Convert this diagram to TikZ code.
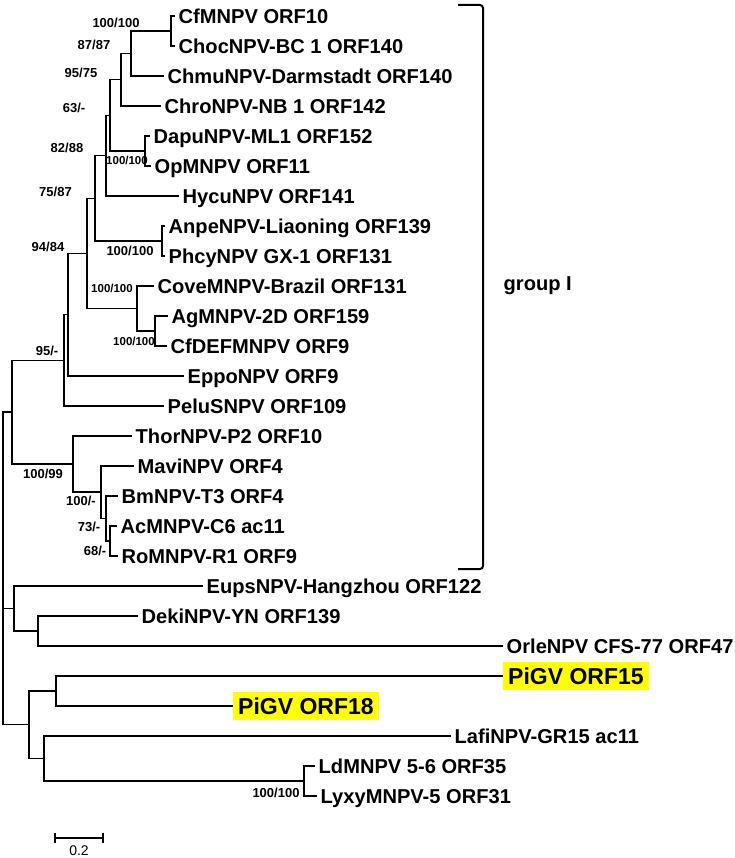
\documentclass[tikz,border=0pt]{standalone}
\usepackage{fontspec}
\setmainfont{Liberation Sans}
\definecolor{hilite}{RGB}{255,255,0}
\tikzset{
  branch/.style={line width=1.1pt},
  taxon/.style={anchor=west, inner xsep=3.5pt, inner ysep=0pt, text height=14.3pt, text depth=0pt,
    font=\fontsize{20.1}{22}\selectfont\bfseries},
  pigv/.style={taxon, fill=hilite, inner xsep=5pt, inner ysep=5.7pt, text height=16.5pt,
    font=\fontsize{23}{26}\selectfont\bfseries},
  boot/.style={inner sep=0pt, font=\fontsize{13}{15}\selectfont\bfseries},
  bootsm/.style={boot, font=\fontsize{11.5}{13}\selectfont\bfseries},
}

\begin{document}
\begin{tikzpicture}[x=1pt, y=-1pt]
        \useasboundingbox (0,0) rectangle (734,858);
        % internal nodes
        \coordinate (root) at (3,609);
        \coordinate (A)    at (12,412);
        \coordinate (B)    at (64,360.3);
        \coordinate (C)    at (68,314.7);
        \coordinate (D)    at (87,253.4);
        \coordinate (G)    at (95,198.3);
        \coordinate (I)    at (106,155.7);
        \coordinate (J)    at (110,115.4);
        \coordinate (N3)   at (121,79.8);
        \coordinate (N2)   at (131,53.5);
        \coordinate (N1)   at (171,31);
        \coordinate (DO)   at (145,151);
        \coordinate (H)    at (162,241);
        \coordinate (E)    at (137,308.5);
        \coordinate (F)    at (155,331);
        \coordinate (K)    at (73,464);
        \coordinate (L)    at (101,492);
        \coordinate (M)    at (106,518.5);
        \coordinate (N)    at (110,541);
        \coordinate (P)    at (14,608.5);
        \coordinate (R)    at (38,631);
        \coordinate (Q)    at (29,724.8);
        \coordinate (S)    at (56,691);
        \coordinate (T)    at (44,758.5);
        \coordinate (U)    at (304,781);
        % taxa
        \node[taxon] (Cf)    at (175,16)  {CfMNPV ORF10};
        \node[taxon] (Choc)  at (175,46)  {ChocNPV-BC 1 ORF140};
        \node[taxon] (Chmu)  at (164,76)  {ChmuNPV-Darmstadt ORF140};
        \node[taxon] (Chro)  at (161,106) {ChroNPV-NB 1 ORF142};
        \node[taxon] (Dapu)  at (150,136) {DapuNPV-ML1 ORF152};
        \node[taxon] (Op)    at (151,166) {OpMNPV ORF11};
        \node[taxon] (Hycu)  at (179,196) {HycuNPV ORF141};
        \node[taxon] (Anpe)  at (165,226) {AnpeNPV-Liaoning ORF139};
        \node[taxon] (Phcy)  at (165,256) {PhcyNPV GX-1 ORF131};
        \node[taxon] (Cove)  at (154,286) {CoveMNPV-Brazil ORF131};
        \node[taxon] (Ag)    at (168,316) {AgMNPV-2D ORF159};
        \node[taxon] (CfDEF) at (167,346) {CfDEFMNPV ORF9};
        \node[taxon] (Eppo)  at (184,376) {EppoNPV ORF9};
        \node[taxon] (Pelu)  at (164,406) {PeluSNPV ORF109};
        \node[taxon] (Thor)  at (132,436) {ThorNPV-P2 ORF10};
        \node[taxon] (Mavi)  at (134,466) {MaviNPV ORF4};
        \node[taxon] (Bm)    at (118,496) {BmNPV-T3 ORF4};
        \node[taxon] (Ac)    at (117,526) {AcMNPV-C6 ac11};
        \node[taxon] (Ro)    at (118,556) {RoMNPV-R1 ORF9};
        \node[taxon] (Eups)  at (203,586) {EupsNPV-Hangzhou ORF122};
        \node[taxon] (Deki)  at (138,616) {DekiNPV-YN ORF139};
        \node[taxon] (Orle)  at (503,646) {OrleNPV CFS-77 ORF47};
        \node[pigv]  (Pi15)  at (503,676) {PiGV ORF15};
        \node[pigv]  (Pi18)  at (233,706) {PiGV ORF18};
        \node[taxon] (Lafi)  at (451,736) {LafiNPV-GR15 ac11};
        \node[taxon] (Ld)    at (315,766) {LdMNPV 5-6 ORF35};
        \node[taxon] (Lyxy)  at (317,796) {LyxyMNPV-5 ORF31};
        % branches
        \draw[branch] (root) |- (A);
        \draw[branch] (root) |- (P);
        \draw[branch] (root) |- (Q);
        \draw[branch] (A) |- (B);
        \draw[branch] (A) |- (K);
        \draw[branch] (B) |- (C);
        \draw[branch] (B) |- (Pelu.west);
        \draw[branch] (C) |- (D);
        \draw[branch] (C) |- (Eppo.west);
        \draw[branch] (D) |- (G);
        \draw[branch] (D) |- (E);
        \draw[branch] (G) |- (I);
        \draw[branch] (G) |- (H);
        \draw[branch] (I) |- (J);
        \draw[branch] (I) |- (Hycu.west);
        \draw[branch] (J) |- (N3);
        \draw[branch] (J) |- (DO);
        \draw[branch] (N3) |- (N2);
        \draw[branch] (N3) |- (Chro.west);
        \draw[branch] (N2) |- (N1);
        \draw[branch] (N2) |- (Chmu.west);
        \draw[branch] (N1) |- (Cf.west);
        \draw[branch] (N1) |- (Choc.west);
        \draw[branch] (DO) |- (Dapu.west);
        \draw[branch] (DO) |- (Op.west);
        \draw[branch] (H) |- (Anpe.west);
        \draw[branch] (H) |- (Phcy.west);
        \draw[branch] (E) |- (Cove.west);
        \draw[branch] (E) |- (F);
        \draw[branch] (F) |- (Ag.west);
        \draw[branch] (F) |- (CfDEF.west);
        \draw[branch] (K) |- (Thor.west);
        \draw[branch] (K) |- (L);
        \draw[branch] (L) |- (Mavi.west);
        \draw[branch] (L) |- (M);
        \draw[branch] (M) |- (Bm.west);
        \draw[branch] (M) |- (N);
        \draw[branch] (N) |- (Ac.west);
        \draw[branch] (N) |- (Ro.west);
        \draw[branch] (P) |- (Eups.west);
        \draw[branch] (P) |- (R);
        \draw[branch] (R) |- (Deki.west);
        \draw[branch] (R) |- (Orle.west);
        \draw[branch] (Q) |- (S);
        \draw[branch] (Q) |- (T);
        \draw[branch] (S) |- (Pi15.west);
        \draw[branch] (S) |- (Pi18.west);
        \draw[branch] (T) |- (Lafi.west);
        \draw[branch] (T) |- (U);
        \draw[branch] (U) |- (Ld.west);
        \draw[branch] (U) |- (Lyxy.west);
        % bootstrap values
        \node[boot]   (bN1) at (116,23)  {100/100};
        \node[boot]   (bN2) at (94,45)   {87/87};
        \node[boot]   (bN3) at (81,72.5) {95/75};
        \node[boot]   (bJ)  at (74,108)  {63/-};
        \node[boot]   (bI)  at (67,148)  {82/88};
        \node[bootsm] (bDO) at (127,160) {100/100};
        \node[boot]   (bG)  at (55.5,192) {75/87};
        \node[boot]   (bH)  at (130,251) {100/100};
        \node[boot]   (bD)  at (48,247)  {94/84};
        \node[bootsm] (bE)  at (112,288) {100/100};
        \node[bootsm] (bF)  at (134,341) {100/100};
        \node[boot]   (bB)  at (47,351)  {95/-};
        \node[boot]   (bK)  at (43,474)  {100/99};
        \node[boot]   (bL)  at (81,501)  {100/-};
        \node[boot]   (bM)  at (89,527)  {73/-};
        \node[boot]   (bN)  at (95,551)  {68/-};
        \node[boot]   (bU)  at (276,793) {100/100};
        % group bracket
        \draw[line width=2pt, rounded corners=3pt] (458,5) -- (483,5) -- (483,569) -- (458,569);
        \node[taxon] (grp) at (500,283) {group I};
        % scale bar
        \coordinate (sbL) at (55,838);
        \coordinate (sbR) at (103,838);
        \draw[line width=1.1pt] (sbL) -- (sbR);
        \draw[line width=1.1pt] ([yshift=-5pt]sbL) -- ([yshift=5pt]sbL);
        \draw[line width=1.1pt] ([yshift=-5pt]sbR) -- ([yshift=5pt]sbR);
        \node[inner sep=0pt, font=\fontsize{14}{16}\selectfont] (sbT) at (79,851) {0.2};
\end{tikzpicture}
\end{document}
